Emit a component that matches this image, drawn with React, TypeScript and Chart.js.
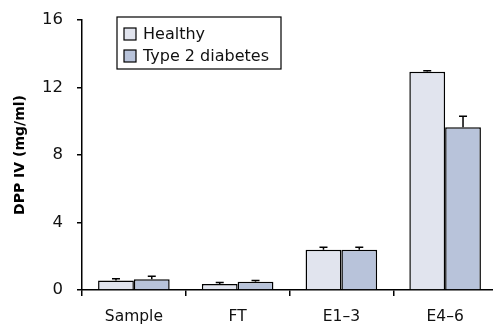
import React, { useEffect, useRef } from "react";
import { Chart, registerables } from "chart.js";

Chart.register(...registerables);

const categories = ["Sample", "FT", "E1\u20133", "E4\u20136"];
const healthy = [0.57, 0.35, 2.38, 12.93];
const healthyErr = [0.1, 0.1, 0.16, 0.07];
const diabetes = [0.63, 0.49, 2.38, 9.64];
const diabetesErr = [0.18, 0.08, 0.16, 0.65];
const yTicks = [0, 4, 8, 12, 16];

const FONT = "'DejaVu Sans', sans-serif";

const errorBarPlugin = {
  id: "errorBars",
  afterDatasetsDraw(chart: any) {
    const ctx = chart.ctx;
    const y = chart.scales.y;
    const errs = [healthyErr, diabetesErr];
    ctx.save();
    ctx.strokeStyle = "#000";
    ctx.lineWidth = 1.5;
    chart.data.datasets.forEach((ds: any, di: number) => {
      const meta = chart.getDatasetMeta(di);
      meta.data.forEach((bar: any, i: number) => {
        const v = ds.data[i];
        const top = y.getPixelForValue(v + errs[di][i]);
        const base = y.getPixelForValue(v);
        ctx.beginPath();
        ctx.moveTo(bar.x, base);
        ctx.lineTo(bar.x, top);
        ctx.moveTo(bar.x - 4, top);
        ctx.lineTo(bar.x + 4, top);
        ctx.stroke();
      });
    });
    ctx.restore();
  },
};

const legendBoxPlugin = {
  id: "legendBox",
  afterDraw(chart: any) {
    const ctx = chart.ctx;
    ctx.save();
    const x0 = 117, y0 = 17, w = 164, h = 52;
    ctx.fillStyle = "#fff";
    ctx.fillRect(x0, y0, w, h);
    ctx.strokeStyle = "#000";
    ctx.lineWidth = 1.2;
    ctx.strokeRect(x0, y0, w, h);
    ctx.font = `16px ${FONT}`;
    ctx.textBaseline = "middle";
    chart.data.datasets.forEach((ds: any, i: number) => {
      const cy = 34 + i * 22;
      ctx.fillStyle = ds.backgroundColor;
      ctx.fillRect(124, cy - 6, 12, 12);
      ctx.strokeStyle = "#000";
      ctx.lineWidth = 1.2;
      ctx.strokeRect(124, cy - 6, 12, 12);
      ctx.fillStyle = "#111";
      ctx.fillText(ds.label, 143, cy + 1);
    });
    ctx.restore();
  },
};

export default function App() {
  const ref = useRef<HTMLCanvasElement | null>(null);
  useEffect(() => {
    document.body.style.overflow = "hidden";
    const chart = new Chart(ref.current as HTMLCanvasElement, {
      type: "bar",
      data: {
        labels: categories,
        datasets: [
          {
            label: "Healthy",
            data: healthy,
            backgroundColor: "#e1e4ee",
            borderColor: "#000",
            borderWidth: 1.5,
            categoryPercentage: 0.69,
            barPercentage: 1,
          },
          {
            label: "Type 2 diabetes",
            data: diabetes,
            backgroundColor: "#b8c3da",
            borderColor: "#000",
            borderWidth: 1.5,
            categoryPercentage: 0.69,
            barPercentage: 1,
          },
        ],
      },
      options: {
        animation: false,
        responsive: false,
        maintainAspectRatio: false,
        layout: { padding: { top: 20, right: 0, bottom: 0, left: 0 } },
        plugins: {
          legend: { display: false },
          tooltip: { enabled: false },
        },
        scales: {
          x: {
            afterFit: (scale: any) => {
              scale.height = 37;
            },
            grid: {
              offset: true,
              drawOnChartArea: false,
              drawTicks: true,
              tickLength: 6,
              color: "#000",
              lineWidth: 1.5,
            },
            border: { display: true, color: "#000", width: 1.5 },
            ticks: {
              color: "#111",
              font: { family: FONT, size: 15.5 },
              padding: 12,
            },
          },
          y: {
            min: 0,
            max: 16,
            afterFit: (scale: any) => {
              scale.width = 82;
              scale.paddingTop = 0;
            },
            afterBuildTicks: (scale: any) => {
              scale.ticks = yTicks.map((v) => ({ value: v }));
            },
            grid: {
              drawOnChartArea: false,
              drawTicks: true,
              tickLength: 5,
              color: "#000",
              lineWidth: 1.5,
            },
            border: { display: true, color: "#000", width: 1.5 },
            ticks: {
              color: "#111",
              font: { family: FONT, size: 16.5, lineHeight: 1 },
              padding: 14,
            },
            title: {
              display: true,
              text: "DPP IV (mg/ml)",
              color: "#000",
              font: { family: FONT, size: 14, weight: "bold" },
              padding: { top: 12, bottom: 2 },
            },
          },
        },
      },
      plugins: [errorBarPlugin, legendBoxPlugin],
    });
    return () => chart.destroy();
  }, []);
  return (
    <div style={{ position: "absolute", left: 0, top: 0, width: 497, height: 327 }}>
      <canvas ref={ref} width={497} height={327} />
    </div>
  );
}
